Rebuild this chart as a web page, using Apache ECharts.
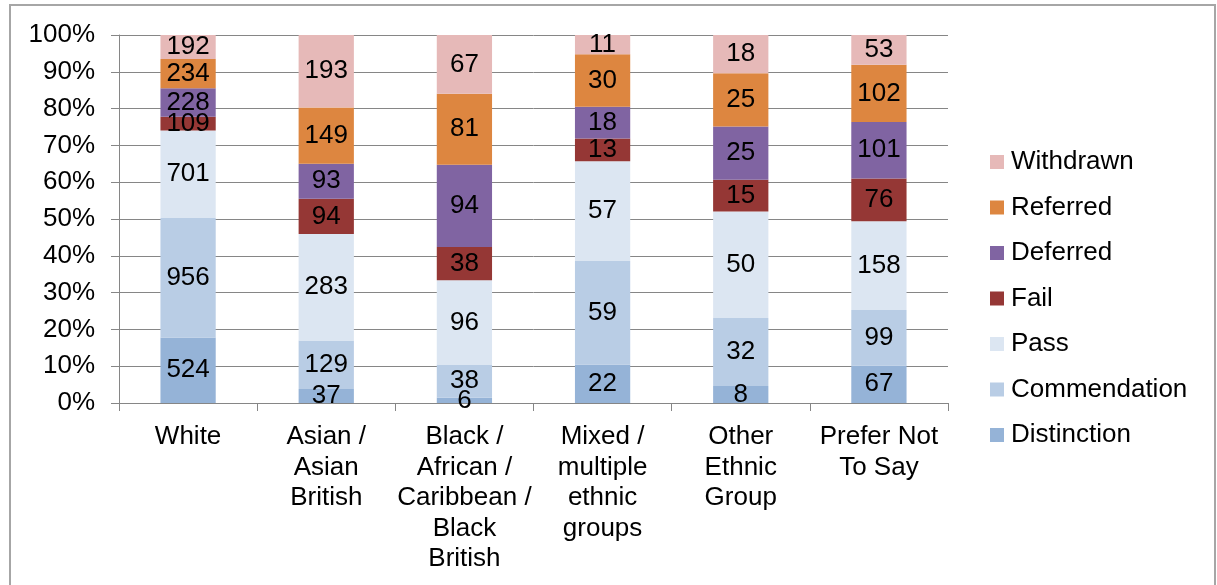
<!DOCTYPE html>
<html>
<head>
<meta charset="utf-8">
<script src="https://cdn.jsdelivr.net/npm/echarts@6/dist/echarts.min.js"></script>
<style>
  html, body { margin: 0; padding: 0; background: #fff; }
  #chart { width: 1217px; height: 585px; }
</style>
</head>
<body>
<div id="chart"></div>
<script>
// Ethnic groups along the category axis
const categories = [
  'White',
  'Asian /\nAsian\nBritish',
  'Black /\nAfrican /\nCaribbean /\nBlack\nBritish',
  'Mixed /\nmultiple\nethnic\ngroups',
  'Other\nEthnic\nGroup',
  'Prefer Not\nTo Say'
];

// Outcome counts per ethnic group (stacked bottom to top)
const distinction  = [524, 37, 6, 22, 8, 67];
const commendation = [956, 129, 38, 59, 32, 99];
const pass         = [701, 283, 96, 57, 50, 158];
const fail         = [109, 94, 38, 13, 15, 76];
const deferred     = [228, 93, 94, 18, 25, 101];
const referred     = [234, 149, 81, 30, 25, 102];
const withdrawn    = [192, 193, 67, 11, 18, 53];

const yTicks = [0, 10, 20, 30, 40, 50, 60, 70, 80, 90, 100];

const outcomes = [
  { name: 'Distinction',  counts: distinction,  color: '#95B3D7' },
  { name: 'Commendation', counts: commendation, color: '#B9CDE5' },
  { name: 'Pass',         counts: pass,         color: '#DCE6F2' },
  { name: 'Fail',         counts: fail,         color: '#953735' },
  { name: 'Deferred',     counts: deferred,     color: '#8064A2' },
  { name: 'Referred',     counts: referred,     color: '#DD8640' },
  { name: 'Withdrawn',    counts: withdrawn,    color: '#E6B9B8' }
];

// Column totals so each stack fills 100%
const totals = categories.map((_, i) =>
  outcomes.reduce((s, o) => s + o.counts[i], 0));

const FONT = '"Liberation Sans", Arial, sans-serif';
const GRAY = '#868686';

const series = outcomes.map(o => ({
  name: o.name,
  type: 'bar',
  stack: 'all',
  barWidth: '40%',
  itemStyle: { color: o.color },
  data: o.counts.map((c, i) => c / totals[i] * 100),
  label: {
    show: true,
    position: 'inside',
    color: '#000',
    fontFamily: FONT,
    fontSize: 26,
    formatter: p => String(o.counts[p.dataIndex])
  },
  emphasis: { disabled: true }
}));

const chart = echarts.init(document.getElementById('chart'), null, { renderer: 'canvas' });
chart.setOption({
  animation: false,
  backgroundColor: '#fff',
  textStyle: { fontFamily: FONT },
  grid: { left: 119, right: 269, top: 35, bottom: 182, containLabel: false },
  xAxis: {
    type: 'category',
    data: categories,
    boundaryGap: true,
    axisLine: { show: true, lineStyle: { color: GRAY, width: 1 } },
    axisTick: { show: true, length: 8, alignWithLabel: false, lineStyle: { color: GRAY } },
    axisLabel: {
      interval: 0,
      margin: 19,
      color: '#000',
      fontFamily: FONT,
      fontSize: 26,
      lineHeight: 30.5
    }
  },
  yAxis: {
    type: 'value',
    min: yTicks[0],
    max: yTicks[yTicks.length - 1],
    interval: yTicks[1] - yTicks[0],
    axisLine: { show: true, lineStyle: { color: GRAY, width: 1 } },
    axisTick: { show: true, length: 8, lineStyle: { color: GRAY } },
    splitLine: { show: true, lineStyle: { color: GRAY, width: 1 } },
    axisLabel: {
      margin: 24,
      color: '#000',
      fontFamily: FONT,
      fontSize: 26,
      formatter: '{value}%'
    }
  },
  legend: {
    orient: 'vertical',
    left: 990,
    top: 149,
    padding: 0,
    itemWidth: 14,
    itemHeight: 14,
    itemGap: 19.5,
    icon: 'rect',
    selectedMode: false,
    data: outcomes.map(o => o.name).reverse(),
    textStyle: { fontFamily: FONT, fontSize: 26, color: '#000', lineHeight: 26, padding: [0, 0, 0, 2] }
  },
  graphic: [{
    type: 'rect',
    shape: { x: 10, y: 5, width: 1205, height: 600 },
    style: { fill: 'none', stroke: '#A6A6A6', lineWidth: 2 },
    silent: true,
    z: 100
  }],
  series: series
});
</script>
</body>
</html>
